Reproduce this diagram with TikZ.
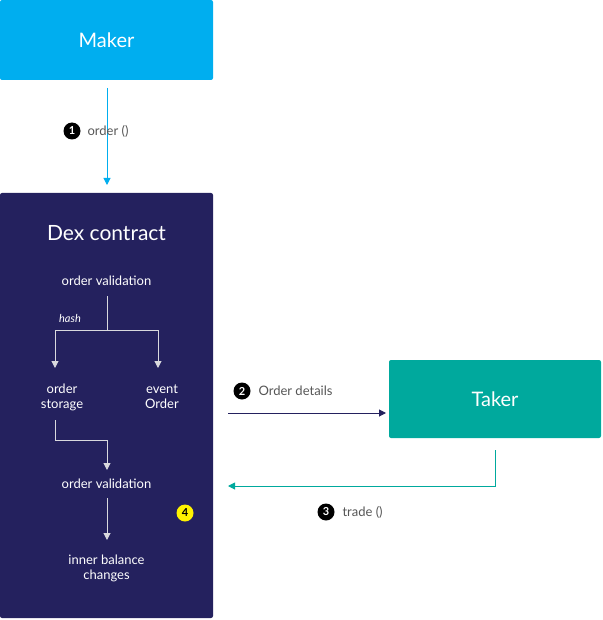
\documentclass[tikz,border=0pt]{standalone}
\usepackage{fontspec}
\setmainfont{Lato}
\usetikzlibrary{arrows.meta}
\definecolor{cyanb}{HTML}{00AEEF}
\definecolor{navy}{HTML}{24215E}
\definecolor{tealb}{HTML}{00A99D}
\definecolor{lgray}{HTML}{D9D9DE}
\definecolor{tgray}{HTML}{555555}
\begin{document}
\begin{tikzpicture}[x=1pt,y=-1pt,
  box/.style={draw=none,rounded corners=2pt,text=white,font=\fontsize{20}{24}\selectfont},
  inner/.style={text=white,font=\fontsize{13}{16}\selectfont,align=center},
  lbl/.style={text=tgray,font=\fontsize{13}{16}\selectfont},
  num/.style={circle,fill=black,text=white,inner sep=0pt,minimum size=17pt,font=\fontsize{11}{12}\selectfont\bfseries},
  arr/.style={-{Triangle[length=7pt,width=7pt]},line width=1pt},
  garr/.style={-{Triangle[length=7pt,width=7pt]},line width=1pt,draw=lgray}]
\useasboundingbox (0,0) rectangle (602,620);
\fill[cyanb,rounded corners=2pt] (0,0) rectangle (213,80);
\node[box] (maker) at (106.5,40) {Maker};
\fill[navy,rounded corners=2pt] (0,193) rectangle (213,618);
\coordinate (dextop) at (107,185);
\fill[tealb,rounded corners=2pt] (389,360) rectangle (601,438);
\node[box] (taker) at (495,399) {Taker};
\coordinate (m1) at (107,88);
\draw[arr,cyanb] (m1) -- (dextop);
\node[num] (n1) at (72,131) {1};
\node[lbl,anchor=west] (l1) at (84,131) {order ()};
\node[box,font=\fontsize{21}{24}\selectfont] (dex) at (106.5,233) {Dex contract};
\node[inner] (ov1) at (106.5,281) {order validation};
\coordinate (b1) at (107,296);
\coordinate (b2) at (107,330);
\coordinate (bl) at (55,330);
\coordinate (br) at (158,330);
\node[text=white,font=\fontsize{11}{13}\selectfont\itshape] (hash) at (70,318) {hash};
\node[inner] (os) at (62,397) {order\\[-1pt]storage};
\node[inner] (eo) at (162,397) {event\\[-1pt]Order};
\draw[lgray,line width=1pt] (b1) -- (b2);
\draw[lgray,line width=1pt] (bl) -- (br);
\draw[garr] (bl) -- (55,368);
\draw[garr] (br) -- (158,368);
\coordinate (s1) at (55,420);
\draw[garr] (s1) -- (55,440) -- (107,440) -- (107,470);
\node[inner] (ov2) at (106.5,484) {order validation};
\draw[garr] (107,498) -- (107,540);
\node[inner] (ibc) at (106.5,568) {inner balance\\[-1pt]changes};
\node[num,fill=yellow,text=black] (n4) at (185,513) {4};
\coordinate (a1) at (228,413);
\coordinate (a2) at (386,413);
\draw[arr,navy] (a1) -- (a2);
\node[num] (n2) at (242,391) {2};
\node[lbl,anchor=west] (l2) at (255,391) {Order details};
\coordinate (t1) at (495,450);
\coordinate (t2) at (228,486);
\draw[arr,tealb] (t1) -- (495,486) -- (t2);
\node[num] (n3) at (326,512) {3};
\node[lbl,anchor=west] (l3) at (339,512) {trade ()};
\end{tikzpicture}
\end{document}
